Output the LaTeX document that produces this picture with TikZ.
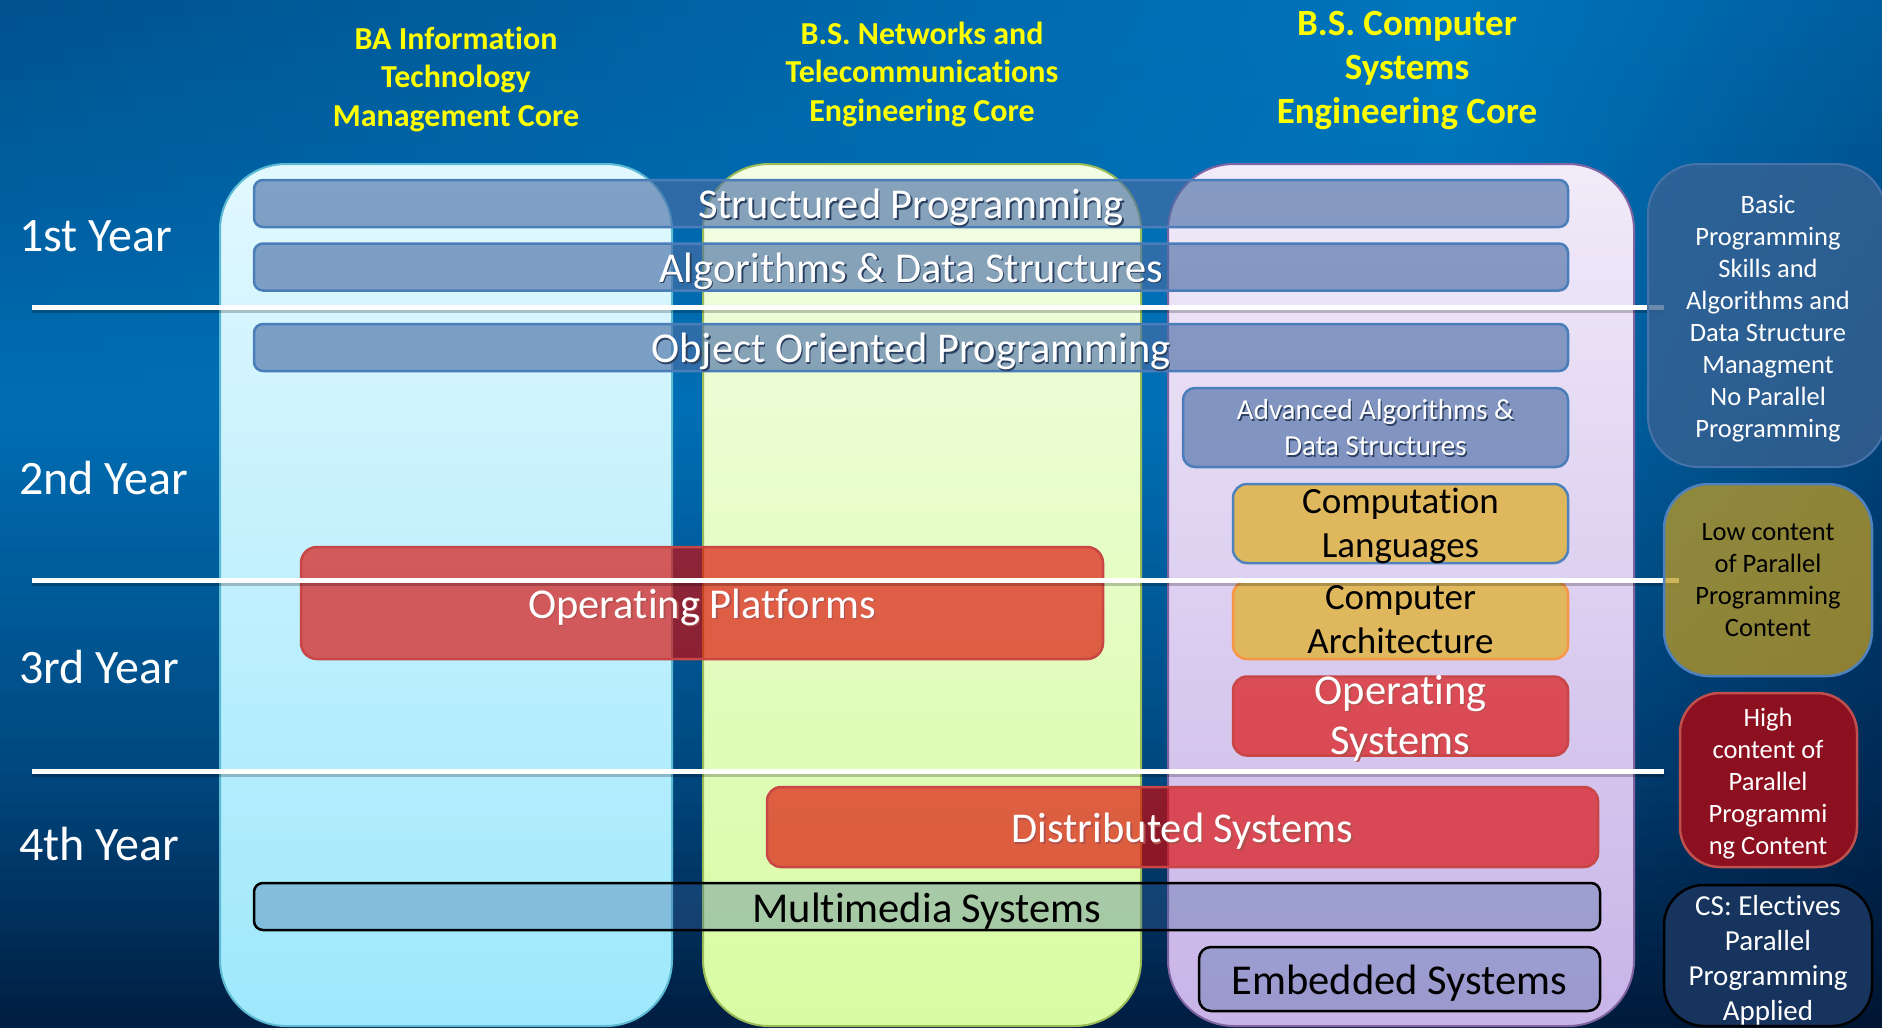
\documentclass[tikz,border=0pt]{standalone}
\usepackage{fontspec}
\setmainfont{Carlito}[Ligatures=NoCommon]

% palette
\definecolor{itTop}{RGB}{226,248,254}
\definecolor{itBot}{RGB}{158,232,252}
\definecolor{itEdge}{RGB}{92,186,212}
\definecolor{ntTop}{RGB}{242,253,228}
\definecolor{ntBot}{RGB}{216,252,162}
\definecolor{ntEdge}{RGB}{155,187,89}
\definecolor{csTop}{RGB}{241,235,249}
\definecolor{csBot}{RGB}{200,180,232}
\definecolor{csEdge}{RGB}{128,100,162}
\definecolor{coreBlue}{RGB}{73,109,164}
\definecolor{coreEdge}{RGB}{74,126,187}
\definecolor{hotRed}{RGB}{220,5,0}
\definecolor{hotEdge}{RGB}{200,70,70}
\definecolor{goldFill}{RGB}{223,184,94}
\definecolor{goldEdgeBlue}{RGB}{79,129,189}
\definecolor{goldEdgeOrange}{RGB}{247,150,70}
\definecolor{electFill}{RGB}{60,100,155}
\definecolor{headYellow}{RGB}{255,255,0}
\definecolor{basicFill}{RGB}{60,99,147}
\definecolor{basicEdge}{RGB}{70,115,170}
\definecolor{lowFill}{RGB}{190,156,36}
\definecolor{highFill}{RGB}{140,16,32}
\definecolor{highEdge}{RGB}{192,80,77}
\definecolor{appliedFill}{RGB}{23,52,94}
\colorlet{txtShadow}{black!50}

% piecewise-linear background channel: #1 result, #2 t, #3..#6 values at t=0,0.4,0.75,1
\newcommand\bgchannel[6]{%
  \pgfmathtruncatemacro#1{#2<0.4 ? #3+(#4-#3)*#2/0.4 :
    (#2<0.75 ? #4+(#5-#4)*(#2-0.4)/0.35 : #5+(#6-#5)*(#2-0.75)/0.25)}}

% text with a soft drop shadow
\newcommand\shd[1]{\rlap{\kern1.4pt\raisebox{-1.4pt}{\textcolor{txtShadow}{#1}}}#1}

\tikzset{
  bar/.style={rounded corners=9pt, line width=2.5pt, inner sep=0pt},
  corebar/.style={bar, draw=coreEdge, fill=coreBlue, fill opacity=0.63},
  hotbar/.style={bar, draw=hotEdge, fill=hotRed, fill opacity=0.64},
  goldbar/.style={bar, fill=goldFill},
  electbar/.style={bar, draw=black, fill=electFill, fill opacity=0.33},
  shadowcolor/.code={\colorlet{txtShadow}{#1}},
  bartext/.style={inner sep=0pt, align=center, font=\fontsize{42.5}{50}\selectfont},
  heading/.style={inner sep=0pt, align=center, text=headYellow},
  yearlabel/.style={inner sep=0pt, anchor=west, text=white, font=\fontsize{48}{56}\selectfont},
  yearline/.style={white, line width=5pt},
  yearlineshadow/.style={black, opacity=0.22, line width=4pt},
  sidetext/.style={inner sep=0pt, align=center, font=\fontsize{26.5}{32}\selectfont},
  column/.style={line width=2pt, rounded corners=66pt},
}

\begin{document}
\begin{tikzpicture}[x=1pt, y=-1pt]
\useasboundingbox (0,0) rectangle (1882,1028);

% background: horizontal strips, each shaded left -> centre -> right
\foreach \i in {0,...,63} {
  \pgfmathsetmacro\t{(\i+0.5)/64}
  \pgfmathsetmacro\ya{\i*16.0625}
  \pgfmathsetmacro\yb{(\i+1)*16.0625+0.8}
  \bgchannel\gL{\t}{82}{110}{72}{30}
  \bgchannel\bL{\t}{142}{180}{127}{65}
  \bgchannel\gM{\t}{118}{112}{72}{30}
  \bgchannel\bM{\t}{190}{182}{128}{66}
  \bgchannel\gR{\t}{95}{68}{42}{22}
  \bgchannel\bR{\t}{160}{122}{85}{50}
  \definecolor{stripL}{RGB}{0,\gL,\bL}
  \definecolor{stripM}{RGB}{0,\gM,\bM}
  \definecolor{stripR}{RGB}{0,\gR,\bR}
  \shade[left color=stripL, right color=stripM] (0,\ya) rectangle (1451,\yb);
  \shade[left color=stripM, right color=stripR] (1450,\ya) rectangle (1882,\yb);
}

% programme columns
\path[column, draw=itEdge, top color=itTop, bottom color=itBot] (220,164) rectangle (672,1026);
\path[column, draw=ntEdge, top color=ntTop, bottom color=ntBot] (703,164) rectangle (1141,1026);
\path[column, draw=csEdge, top color=csTop, bottom color=csBot] (1168,164) rectangle (1634,1026);

% course bars
\node[corebar, minimum width=1314pt, minimum height=47pt] (sp) at (911,203.5) {};
\node[corebar, minimum width=1314pt, minimum height=47pt] (ads) at (911,267) {};
\node[corebar, minimum width=1314pt, minimum height=47pt] (oop) at (911,347.5) {};
\node[corebar, rounded corners=12pt, minimum width=385pt, minimum height=79pt] (aads) at (1375.5,427.5) {};
\node[goldbar, draw=goldEdgeBlue, rounded corners=14pt, minimum width=335pt, minimum height=79pt] (cl) at (1400.5,523.5) {};
\node[goldbar, draw=goldEdgeOrange, rounded corners=14pt, minimum width=335pt, minimum height=78pt] (ca) at (1400.5,620) {};
\node[hotbar, rounded corners=14pt, minimum width=335pt, minimum height=79pt] (os) at (1400.5,716) {};
\node[hotbar, rounded corners=16pt, minimum width=802pt, minimum height=112pt] (op) at (702,603) {};
\node[hotbar, rounded corners=14pt, minimum width=831pt, minimum height=80pt] (ds) at (1182.5,827) {};
\node[electbar, minimum width=1346pt, minimum height=47pt] (mm) at (927,906.5) {};
\node[electbar, rounded corners=12pt, minimum width=401pt, minimum height=64pt] (es) at (1399.5,979) {};

% course titles
\begin{scope}[shadowcolor={black!40!coreBlue}]
\node[bartext, text=white] (sp-t) at ([yshift=-5pt]sp.center) {\shd{Structured Programming}};
\node[bartext, text=white] (ads-t) at ([yshift=-5pt]ads.center) {\shd{Algorithms \& Data Structures}};
\node[bartext, text=white] (oop-t) at ([yshift=-5pt]oop.center) {\shd{Object Oriented Programming}};
\node[bartext, text=white, font=\fontsize{29}{36}\selectfont] (aads-t) at ([yshift=-1pt]aads.center)
  {\shd{Advanced Algorithms \&}\\\shd{Data Structures}};
\end{scope}
\node[bartext, text=black, font=\fontsize{37}{44}\selectfont] (cl-t) at ([yshift=-2.5pt]cl.center) {Computation\\Languages};
\node[bartext, text=black, font=\fontsize{37}{44}\selectfont] (ca-t) at (ca.center) {Computer\\Architecture};
\begin{scope}[shadowcolor={black!35!hotRed!70!white}]
\node[bartext, text=white] (os-t) at ([yshift=-2.5pt]os.center) {\shd{Operating}\\\shd{Systems}};
\node[bartext, text=white] (op-t) at ([yshift=-5pt]op.center) {\shd{Operating Platforms}};
\node[bartext, text=white] (ds-t) at ([yshift=-5pt]ds.center) {\shd{Distributed Systems}};
\end{scope}
\node[bartext, text=black] (mm-t) at ([yshift=-5pt]mm.center) {Multimedia Systems};
\node[bartext, text=black] (es-t) at ([yshift=-4pt]es.center) {Embedded Systems};

% year separators
\coordinate (l1a) at (32,307);  \coordinate (l1b) at (1664,307);
\coordinate (l2a) at (32,580);  \coordinate (l2b) at (1679,580);
\coordinate (l3a) at (32,771);  \coordinate (l3b) at (1664,771);
\foreach \a/\b in {l1a/l1b, l2a/l2b, l3a/l3b} {
  \draw[yearlineshadow] ([yshift=-3.5pt]\a) -- ([yshift=-3.5pt]\b);
  \draw[yearline] (\a) -- (\b);
}

% parallel-content legend
\path[draw=basicEdge, line width=2pt, fill=basicFill, fill opacity=0.75, rounded corners=50pt]
  (1648,164) rectangle (1886,467);
\path[draw=goldEdgeBlue, line width=2.5pt, fill=lowFill, fill opacity=0.75, rounded corners=45pt]
  (1664,484) rectangle (1872,676);
\path[draw=highEdge, line width=2.5pt, fill=highFill, rounded corners=40pt]
  (1680,693) rectangle (1857,867);
\path[draw=black, line width=2.5pt, fill=appliedFill, rounded corners=40pt]
  (1664,885) rectangle (1872,1026);

\node[sidetext, text=white] (basic) at (1768,318.4)
  {Basic\\Programming\\Skills and\\Algorithms and\\Data Structure\\Managment\\No Parallel\\Programming};
\node[sidetext, text=black] (low) at (1768,580)
  {Low content\\of Parallel\\Programming\\Content};
\node[sidetext, text=white] (high) at (1768,783.4)
  {High\\content of\\Parallel\\Programmi\\ng Content};
\node[sidetext, text=white, font=\fontsize{29}{35}\selectfont] (applied) at (1768,960)
  {CS: Electives\\Parallel\\Programming\\Applied};

% programme headings
\node[heading, font=\bfseries\fontsize{32}{38.4}\selectfont] (hit) at (456,79.4)
  {BA Information\\Technology\\Management Core};
\node[heading, font=\bfseries\fontsize{32}{38.4}\selectfont] (hnt) at (922,74.4)
  {B.S. Networks and\\Telecommunications\\Engineering Core};
\node[heading, font=\bfseries\fontsize{37}{44.4}\selectfont] (hcs) at (1407,70.6)
  {B.S. Computer\\Systems\\Engineering Core};

% year labels
\node[yearlabel] (y1) at (19,236.5) {1st Year};
\node[yearlabel] (y2) at (19,477.7) {2nd Year};
\node[yearlabel] (y3) at (19,667.4) {3rd Year};
\node[yearlabel] (y4) at (19,843.8) {4th Year};
\end{tikzpicture}
\end{document}
